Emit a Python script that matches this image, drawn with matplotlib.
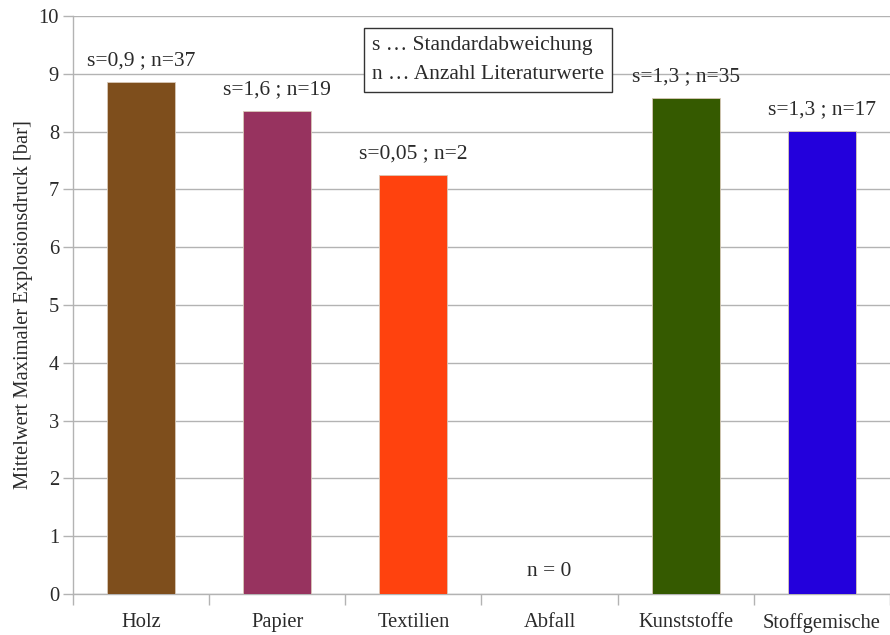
import matplotlib
matplotlib.use("Agg")
import matplotlib.pyplot as plt
import numpy as np

categories = ["Holz", "Papier", "Textilien", "Abfall", "Kunststoffe", "Stoffgemische"]
values = [8.86, 8.36, 7.25, 0.0, 8.58, 8.01]
labels = ["s=0,9 ; n=37", "s=1,6 ; n=19", "s=0,05 ; n=2", "n = 0", "s=1,3 ; n=35", "s=1,3 ; n=17"]
colors = ["#7e4e1c", "#97335f", "#ff420e", "#ffffff", "#355a00", "#2300dc"]
yticks = list(range(0, 11))

plt.rcParams['font.family'] = ['Liberation Serif', 'DejaVu Serif']
fs = 14.8
fa = 15.5

fig = plt.figure(figsize=(8.90, 6.35), dpi=100)
ax = fig.add_axes([73/890, 41/635, 1 - 73/890, (594-16)/635])

x = np.arange(len(categories))
ax.bar(x, values, width=0.5, color=colors, edgecolor="#d8c8b8", linewidth=0.6, zorder=3)

for xi, v, lab in zip(x, values, labels):
    y = v + 0.2 if v > 0 else 0.22
    ax.text(xi, y, lab, ha="center", va="bottom", fontsize=fa, color="#2a2a2a", zorder=4)

ax.set_xlim(-0.5, 5.5 - 8/137.5)
ax.set_ylim(0, 10)
ax.set_yticks(yticks)
ax.set_yticklabels([str(t) for t in yticks], fontsize=fs, color="#2a2a2a")
ax.set_xticks(x)
ax.set_xticklabels(categories, fontsize=fs, color="#2a2a2a")
ax.set_xticks(np.arange(-0.5, 6.0, 1.0), minor=True)
ax.tick_params(axis="x", which="major", length=0, pad=14)
ax.tick_params(axis="x", which="minor", length=8, color="#b3b3b3", width=1)
ax.tick_params(axis="y", length=7, color="#b3b3b3", width=1, pad=3)
ax.yaxis.grid(True, color="#b3b3b3", linewidth=1, zorder=0)
ax.set_axisbelow(True)
for s in ["top", "right"]:
    ax.spines[s].set_visible(False)
for s in ["left", "bottom"]:
    ax.spines[s].set_color("#b3b3b3")
    ax.spines[s].set_linewidth(1)

ax.set_ylabel("Mittelwert Maximaler Explosionsdruck [bar]", fontsize=fs, labelpad=4, color="#2a2a2a")

fig.text(372/890, 1 - 60/635, "s … Standardabweichung\nn … Anzahl Literaturwerte",
         ha="left", va="center", multialignment="left", fontsize=fa, linespacing=1.7, color="#2a2a2a",
         bbox=dict(boxstyle="square,pad=0.36", facecolor="white", edgecolor="#333333", linewidth=1), zorder=5)

fig.savefig("out.png", dpi=100)
